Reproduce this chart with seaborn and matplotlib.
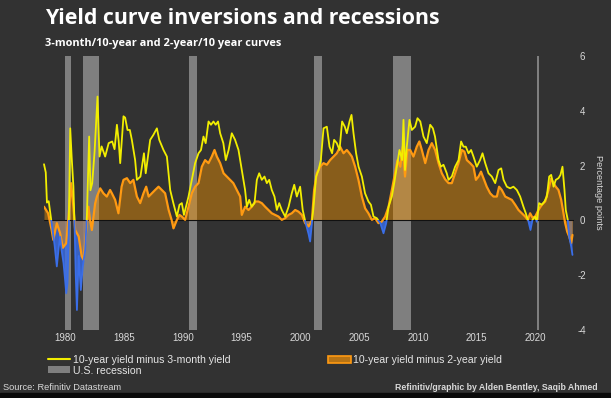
import numpy as np
import matplotlib
matplotlib.use("Agg")
import matplotlib.pyplot as plt
from matplotlib.lines import Line2D
from matplotlib.patches import Patch, Rectangle
import seaborn as sns

# 10-year minus 3-month spread
yr_3m = [1978.2, 1978.35, 1978.45, 1978.6, 1978.8, 1978.9, 1979.1, 1979.29, 1979.45, 1979.57,
         1979.7, 1979.86, 1980.0, 1980.09, 1980.2, 1980.3, 1980.43, 1980.55, 1980.7, 1980.8,
         1980.9, 1981.0, 1981.15, 1981.33, 1981.5, 1981.7, 1981.85, 1982.04, 1982.15, 1982.3,
         1982.5, 1982.75, 1982.92, 1983.1, 1983.4, 1983.7, 1984.0, 1984.2, 1984.4, 1984.55,
         1984.68, 1984.96, 1985.1, 1985.3, 1985.5, 1985.67, 1985.95, 1986.1, 1986.4, 1986.7,
         1986.85, 1987.23, 1987.5, 1987.8, 1988.0, 1988.36, 1988.65, 1988.93, 1989.2, 1989.5,
         1989.72, 1989.92, 1990.1, 1990.49, 1990.77, 1991.05, 1991.34, 1991.55, 1991.76, 1991.95,
         1992.19, 1992.4, 1992.61, 1992.8, 1993.0, 1993.18, 1993.45, 1993.66, 1993.9, 1994.17,
         1994.45, 1994.74, 1995.02, 1995.3, 1995.45, 1995.65, 1995.85, 1996.1, 1996.3, 1996.5,
         1996.72, 1996.95, 1997.15, 1997.35, 1997.57, 1997.8, 1998.0, 1998.2, 1998.42, 1998.71,
         1999.0, 1999.27, 1999.48, 1999.7, 1999.98, 2000.2, 2000.45, 2000.7, 2000.83, 2000.98,
         2001.12, 2001.34, 2001.55, 2001.74, 2001.97, 2002.25, 2002.48, 2002.7, 2002.87, 2003.1,
         2003.33, 2003.55, 2003.78, 2003.95, 2004.18, 2004.35, 2004.52, 2004.74, 2004.95, 2005.23,
         2005.5, 2005.79, 2006.0, 2006.22, 2006.5, 2006.8, 2007.07, 2007.3, 2007.5, 2007.78,
         2007.98, 2008.2, 2008.43, 2008.65, 2008.77, 2008.9, 2009.05, 2009.28, 2009.48, 2009.76,
         2009.96, 2010.2, 2010.47, 2010.75, 2011.04, 2011.27, 2011.45, 2011.75, 2011.95, 2012.17,
         2012.45, 2012.6, 2012.88, 2013.16, 2013.45, 2013.67, 2013.87, 2014.07, 2014.3, 2014.52,
         2014.72, 2015.0, 2015.28, 2015.49, 2015.72, 2016.0, 2016.28, 2016.57, 2016.85, 2017.08,
         2017.28, 2017.56, 2017.84, 2018.12, 2018.41, 2018.69, 2018.97, 2019.17, 2019.4, 2019.57,
         2019.74, 2019.97, 2020.1, 2020.3, 2020.53, 2020.76, 2020.96, 2021.16, 2021.33, 2021.53,
         2021.72, 2021.95, 2022.12, 2022.29, 2022.46, 2022.57, 2022.74, 2022.86, 2023.03, 2023.14]
spread_3m = [2.05, 1.75, 0.65, 0.7, 0.05, -0.3, -0.9, -1.68, -1.0, -0.6,
             -1.1, -1.56, -2.2, -2.66, -2.3, -0.5, 3.36, 2.33, 1.23, -0.2,
             -2.0, -3.27, -1.3, -2.54, -1.68, -1.08, 0.2, 3.06, 1.1, 1.36,
             2.5, 4.52, 2.33, 2.7, 2.33, 2.82, 2.88, 2.6, 3.49, 2.9,
             2.09, 3.8, 3.75, 3.3, 3.3, 2.94, 2.2, 1.48, 1.6, 2.45,
             1.72, 2.94, 3.12, 3.36, 2.94, 2.57, 2.33, 1.11, 0.63, 0.14,
             0.57, 0.63, 0.2, 0.87, 1.48, 2.09, 2.45, 2.57, 3.06, 2.82,
             3.61, 3.49, 3.61, 3.49, 3.61, 3.18, 2.82, 2.2, 2.57, 3.18,
             2.94, 2.57, 1.84, 1.11, 0.5, 0.75, 0.5, 0.63, 1.48, 1.72,
             1.48, 1.6, 1.36, 1.48, 1.11, 0.87, 0.38, 0.63, 0.38, 0.14,
             0.5, 0.99, 1.3, 0.87, 1.23, 0.38, -0.1, -0.5, -0.77, -0.1,
             0.5, 1.6, 1.84, 2.2, 3.36, 3.42, 2.69, 2.45, 2.94, 2.82,
             2.57, 3.61, 3.42, 3.18, 3.61, 3.85, 3.18, 2.45, 1.96, 1.6,
             0.99, 0.69, 0.57, 0.14, 0.08, -0.1, -0.47, -0.1, 0.5, 0.87,
             1.36, 1.96, 2.57, 2.2, 3.67, 1.84, 2.69, 3.67, 3.3, 3.42,
             3.73, 3.61, 3.06, 2.82, 3.49, 3.36, 3.06, 2.2, 1.96, 2.03,
             1.72, 1.48, 1.6, 1.96, 2.2, 2.88, 2.69, 2.69, 2.45, 2.57,
             2.33, 1.96, 2.2, 2.45, 2.09, 1.72, 1.6, 1.36, 1.84, 1.9,
             1.48, 1.23, 1.17, 1.23, 1.11, 0.87, 0.5, 0.26, -0.04, -0.35,
             0.02, 0.14, -0.05, 0.63, 0.57, 0.69, 0.87, 1.6, 1.66, 1.23,
             1.48, 1.54, 1.66, 1.96, 1.11, 0.38, 0.02, -0.59, -0.95, -1.26]

# 10-year minus 2-year spread
yr_2y = [1978.2, 1978.55, 1978.85, 1978.99, 1979.29, 1979.57, 1979.8, 1980.09, 1980.3, 1980.5,
         1980.7, 1980.85, 1981.15, 1981.4, 1981.56, 1981.85, 1981.98, 1982.12, 1982.27, 1982.55,
         1982.7, 1982.98, 1983.25, 1983.54, 1983.82, 1983.96, 1984.25, 1984.53, 1984.8, 1984.96,
         1985.25, 1985.53, 1985.8, 1986.1, 1986.38, 1986.66, 1986.89, 1987.1, 1987.37, 1987.65,
         1987.94, 1988.22, 1988.5, 1988.8, 1989.05, 1989.21, 1989.5, 1989.72, 1989.92, 1990.2,
         1990.49, 1990.77, 1991.05, 1991.34, 1991.62, 1991.9, 1992.19, 1992.47, 1992.7, 1992.9,
         1993.18, 1993.47, 1993.75, 1994.03, 1994.3, 1994.6, 1994.88, 1995.02, 1995.3, 1995.59,
         1995.87, 1996.16, 1996.44, 1996.72, 1997.0, 1997.29, 1997.57, 1997.86, 1998.14, 1998.42,
         1998.71, 1998.99, 1999.27, 1999.56, 1999.84, 2000.13, 2000.41, 2000.7, 2000.98, 2001.17,
         2001.4, 2001.68, 2001.97, 2002.25, 2002.53, 2002.82, 2003.1, 2003.38, 2003.67, 2003.95,
         2004.18, 2004.38, 2004.66, 2004.94, 2005.23, 2005.51, 2005.79, 2006.08, 2006.36, 2006.64,
         2006.93, 2007.21, 2007.5, 2007.78, 2008.05, 2008.26, 2008.5, 2008.71, 2008.9, 2009.1,
         2009.34, 2009.62, 2009.9, 2010.12, 2010.33, 2010.62, 2010.9, 2011.18, 2011.46, 2011.75,
         2012.03, 2012.31, 2012.6, 2012.88, 2013.16, 2013.45, 2013.73, 2013.95, 2014.16, 2014.44,
         2014.72, 2014.93, 2015.15, 2015.36, 2015.57, 2015.85, 2016.14, 2016.42, 2016.71, 2016.9,
         2017.13, 2017.42, 2017.7, 2017.98, 2018.27, 2018.55, 2018.83, 2019.12, 2019.34, 2019.54,
         2019.74, 2019.97, 2020.25, 2020.54, 2020.82, 2021.1, 2021.33, 2021.53, 2021.72, 2021.95,
         2022.18, 2022.38, 2022.52, 2022.69, 2022.86, 2023.03, 2023.14]
spread_2y = [0.5, 0.26, -0.35, -0.71, -0.1, -0.47, -1.0, -0.83, 0.2, 1.36,
             0.5, -0.35, -0.59, -1.3, -1.44, -0.1, 0.5, 0.0, -0.35, 0.62,
             0.87, 1.17, 0.99, 0.87, 1.11, 1.0, 0.75, 0.26, 1.23, 1.48,
             1.54, 1.36, 1.48, 0.87, 0.63, 0.99, 1.23, 0.87, 0.99, 1.11,
             1.23, 1.11, 0.99, 0.38, 0.02, -0.29, 0.02, 0.2, 0.14, 0.02,
             0.5, 0.99, 1.23, 1.36, 1.96, 2.2, 2.09, 2.33, 2.57, 2.33,
             2.09, 1.72, 1.6, 1.48, 1.36, 1.11, 0.87, 0.2, 0.5, 0.38,
             0.5, 0.69, 0.69, 0.63, 0.5, 0.38, 0.26, 0.2, 0.14, 0.02,
             0.08, 0.2, 0.26, 0.38, 0.32, 0.2, -0.1, -0.22, 0.0, 1.11,
             1.72, 1.96, 2.09, 2.03, 2.2, 2.33, 2.45, 2.69, 2.45, 2.57,
             2.45, 2.33, 1.96, 1.48, 0.87, 0.44, 0.26, 0.02, 0.08, -0.1,
             -0.04, 0.14, 0.5, 1.11, 1.72, 2.2, 1.96, 2.69, 1.6, 2.57,
             2.57, 2.33, 2.69, 2.88, 2.57, 2.09, 2.57, 2.82, 2.57, 2.09,
             1.72, 1.5, 1.36, 1.36, 1.72, 2.09, 2.57, 2.51, 2.2, 2.09,
             1.96, 1.48, 1.6, 1.78, 1.54, 1.23, 0.99, 0.87, 0.87, 1.23,
             1.11, 0.87, 0.81, 0.75, 0.57, 0.38, 0.26, 0.14, 0.02, 0.26,
             0.1, 0.14, 0.38, 0.57, 0.69, 1.11, 1.54, 1.36, 1.23, 1.11,
             0.75, 0.26, -0.1, -0.41, -0.59, -0.83, -0.53]

# US recessions (start, end)
rec_start = [1980.0, 1981.5, 1990.5, 2001.17, 2007.92, 2020.1]
rec_end = [1980.5, 1982.87, 1991.17, 2001.83, 2009.42, 2020.27]

year_ticks = [1980, 1985, 1990, 1995, 2000, 2005, 2010, 2015, 2020]
value_ticks = [-4, -2, 0, 2, 4, 6]

bg = '#323232'
txt = '#d9d9d9'
yellow = '#f2ee00'
orange = '#ff9a12'
blue = '#3a6ee8'
grey = '#7f7f7f'

sns.set_style('dark', {'axes.facecolor': bg, 'figure.facecolor': bg})
plt.rcParams['font.family'] = ['Liberation Sans', 'DejaVu Sans']
plt.rcParams['axes.unicode_minus'] = False

W, H = 611, 398
fig = plt.figure(figsize=(W / 100, H / 100), dpi=100)
ax = fig.add_axes([44 / W, 1 - 330 / H, 530 / W, 274 / H])

for s, e in zip(rec_start, rec_end):
    ax.axvspan(s, e, color=grey, lw=0, zorder=1)

y3 = np.array(spread_3m)
y2 = np.array(spread_2y)

# negative part of the 3-month curve is shown in blue
ax.fill_between(yr_3m, y3, 0, where=y3 < 0, interpolate=True, color=blue, alpha=0.8, lw=0, zorder=2)
ax.fill_between(yr_2y, y2, 0, interpolate=True, color='#f39200', alpha=0.45, lw=0, zorder=3)
ax.axhline(0, color='#111111', lw=0.8, zorder=3.5)

sns.lineplot(x=yr_2y, y=y2, color=orange, lw=1.6, ax=ax, estimator=None, sort=False, zorder=4)

below = Rectangle((1970, -10), 100, 10, transform=ax.transData)
above = Rectangle((1970, 0), 100, 10, transform=ax.transData)

sns.lineplot(x=yr_3m, y=y3, color=blue, lw=1.3, ax=ax, estimator=None, sort=False, zorder=5)
ax.lines[-1].set_clip_path(below)
sns.lineplot(x=yr_3m, y=y3, color=yellow, lw=1.3, ax=ax, estimator=None, sort=False, zorder=6)
ax.lines[-1].set_clip_path(above)

ax.set_xlim(1978.2, 2023.27)
ax.set_ylim(-4, 6)
ax.set_xticks(year_ticks)
ax.set_xticklabels([str(y) for y in year_ticks])
ax.set_yticks(value_ticks)
ax.yaxis.tick_right()
for lab in ax.get_yticklabels():
    lab.set_horizontalalignment('center')
ax.tick_params(axis='x', length=0, pad=2, labelsize=7, colors=txt)
ax.tick_params(axis='y', length=0, pad=6, labelsize=7, colors=txt)
ax.set_xlabel('')
ax.set_ylabel('')
ax.grid(False)
for sp in ax.spines.values():
    sp.set_visible(False)

fig.text(598 / W, 1 - 192.5 / H, 'Percentage points', rotation=270, ha='center', va='center',
         fontsize=6.7, color=txt)

title = fig.text(45 / W, 1 - 24 / H, 'Yield curve inversions and recessions', fontsize=15.5,
                 fontweight='bold', color='white', family='Open Sans', va='baseline')
sub = fig.text(45 / W, 1 - 46 / H, '3-month/10-year and 2-year/10 year curves', fontsize=7.5,
               fontweight='bold', color='white', family='Open Sans', va='baseline')

handles = [Line2D([], [], color=yellow, lw=1.5),
           Patch(facecolor=grey, edgecolor='none'),
           Patch(facecolor='#b87414', edgecolor=orange, lw=1.2)]
labels = ['10-year yield minus 3-month yield', 'U.S. recession', '10-year yield minus 2-year yield']
fig.legend(handles, labels, ncol=2, loc='upper left', bbox_to_anchor=(48 / W, 1 - 355 / H),
           frameon=False, fontsize=7.6, labelcolor='#e6e6e6', handlelength=2.1, handleheight=0.6,
           handletextpad=0.25, columnspacing=9.3, labelspacing=0.05, borderpad=0, borderaxespad=0)

src = fig.text(3 / W, 1 - 388 / H, 'Source: Refinitiv Datastream', fontsize=6.7, color=txt, va='center')
cred = fig.text(598 / W, 1 - 388 / H, 'Refinitiv/graphic by Alden Bentley, Saqib Ahmed', fontsize=6.7,
                fontweight='bold', color=txt, va='center', ha='right')

fig.patches.append(Rectangle((0, 0), 1, 5 / H, transform=fig.transFigure, color='#0a0a0a'))


def fit_width(t, px):
    fig.canvas.draw()
    w = t.get_window_extent().width
    t.set_fontsize(t.get_fontsize() * px / w)


fit_width(title, 393)
fit_width(sub, 233)
fit_width(src, 118)
fit_width(cred, 203)

fig.savefig('out.png', dpi=100, facecolor=bg)
